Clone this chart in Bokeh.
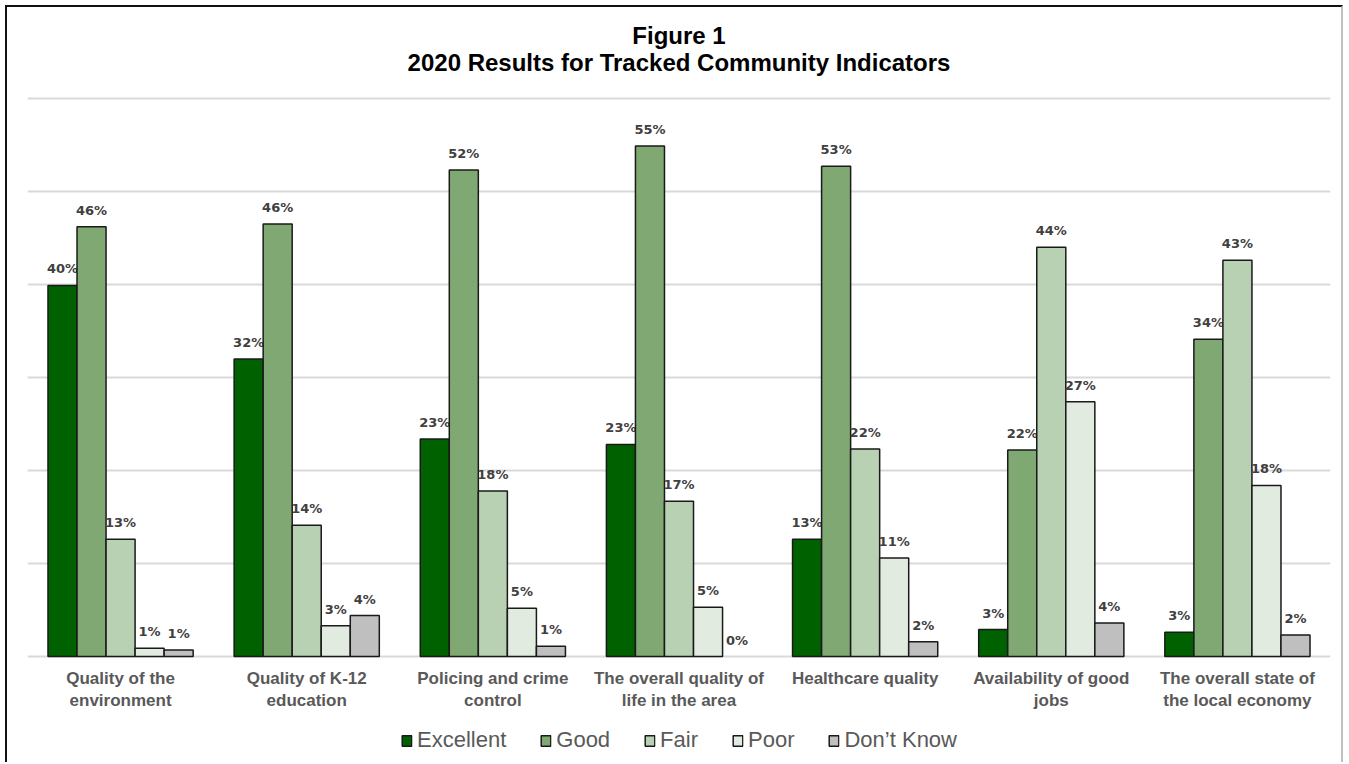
from bokeh.plotting import figure
from bokeh.models import (ColumnDataSource, FactorRange, Range1d, FixedTicker,
                          Legend, LegendItem)
from bokeh.transform import dodge
from bokeh.core.properties import value
from bokeh.embed import file_html
from bokeh.resources import INLINE

title_lines = ["Figure 1", "2020 Results for Tracked Community Indicators"]
categories = [
    "Quality of the\nenvironment",
    "Quality of K-12\neducation",
    "Policing and crime\ncontrol",
    "The overall quality of\nlife in the area",
    "Healthcare quality",
    "Availability of good\njobs",
    "The overall state of\nthe local economy",
]
series = ["Excellent", "Good", "Fair", "Poor", "Don\u2019t Know"]
excellent = [39.9, 32.0, 23.4, 22.8, 12.6, 2.9, 2.6]
good = [46.2, 46.5, 52.3, 54.9, 52.7, 22.2, 34.1]
fair = [12.6, 14.1, 17.8, 16.7, 22.3, 44.0, 42.6]
poor = [0.9, 3.3, 5.2, 5.3, 10.6, 27.4, 18.4]
dont_know = [0.7, 4.4, 1.1, 0.0, 1.6, 3.6, 2.3]
grid_ticks = [0, 10, 20, 30, 40, 50, 60]
colors = ["#006100", "#80a872", "#b9d1b3", "#e1ebe0", "#bfbfbf"]
values_list = [excellent, good, fair, poor, dont_know]

p = figure(
    x_range=FactorRange(*categories, range_padding=0),
    y_range=Range1d(-11.61, 69.78),
    width=1338, height=757,
    output_backend="svg", toolbar_location=None,
    min_border_left=20, min_border_right=15, min_border_top=0,
    min_border_bottom=0,
    styles={"margin-left": "5px", "margin-top": "5px",
            "border-left": "2px solid #111111", "border-top": "2px solid #111111",
            "border-right": "2px solid #c0c0c0"},
)
p.outline_line_color = None
p.background_fill_color = "white"

p.xaxis.visible = False
p.yaxis.visible = False
p.ygrid.ticker = FixedTicker(ticks=grid_ticks)
p.ygrid.grid_line_color = "#d9d9d9"
p.ygrid.grid_line_width = 2
p.xgrid.grid_line_color = None

# chart title, centred over the plot area, above the top gridline
mid = categories[len(categories) // 2]
top = grid_ticks[-1]
p.text(x=[mid, mid], y=[top, top], text=title_lines,
       text_font=value("Liberation Sans"), text_font_style="bold",
       text_font_size="24px", text_color="#000000", text_align="center",
       text_baseline="middle", y_offset=[-63, -36])

# category labels under the baseline
p.text(x=categories, y=[0] * len(categories), text=categories,
       text_font=value("Liberation Sans"), text_font_style="bold",
       text_font_size="17px", text_color="#595959", text_align="center",
       text_baseline="top", y_offset=12, text_line_height=1.2)

width = 0.156
offsets = [-2 * width, -width, 0, width, 2 * width]
items = []
for name, vals, col, off in zip(series, values_list, colors, offsets):
    src = ColumnDataSource(dict(
        cat=categories, v=vals,
        lbl=[f"{round(v)}%" for v in vals],
        la=[1.0 if v > 0 else 0.0 for v in vals],
    ))
    r = p.vbar(x=dodge("cat", off, range=p.x_range), top="v", width=width,
               source=src, fill_color=col, line_color="#1a1a1a",
               line_width=1.5, line_alpha="la")
    p.text(x=dodge("cat", off, range=p.x_range), y="v", text="lbl", source=src,
           text_font=value("DejaVu Sans"), text_font_style="bold",
           text_font_size="13px", text_color="#404040",
           text_align="center", text_baseline="bottom", y_offset=-9)
    items.append(LegendItem(label=name, renderers=[r], index=0))

legend = Legend(items=items, orientation="horizontal", location="bottom_center",
                label_text_font="Liberation Sans", label_text_font_size="22px",
                label_text_color="#595959", glyph_width=12, glyph_height=13,
                label_standoff=5, spacing=33, padding=2, margin=11,
                border_line_color=None, background_fill_alpha=0)
p.add_layout(legend, "center")

open("out.html", "w").write(file_html(p, INLINE))
